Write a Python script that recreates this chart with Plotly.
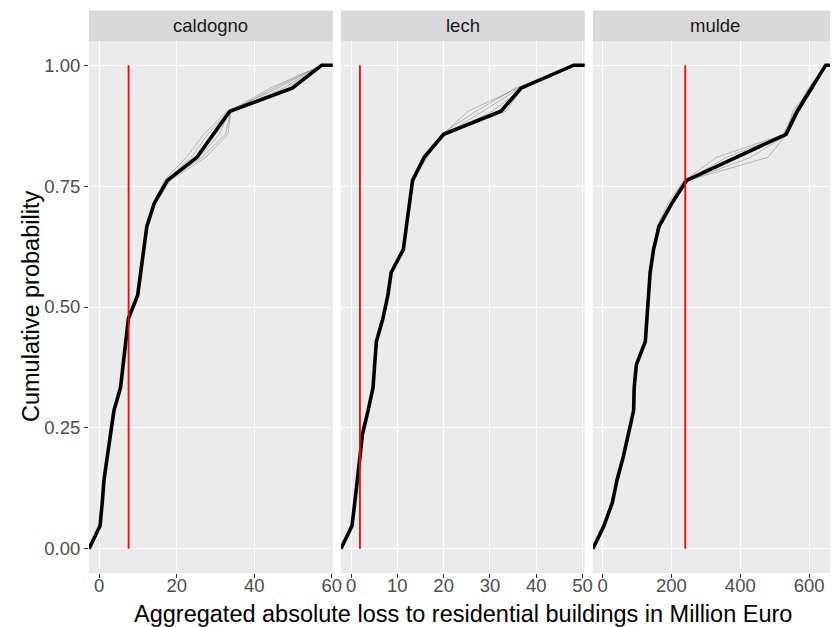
import plotly.graph_objects as go

# ---------------- data ----------------
panels = ["caldogno", "lech", "mulde"]

# sorted aggregated losses (Million Euro), main (bold) ECDF per case study
caldogno_loss = [0.25, 0.8, 1.27, 2.1, 2.97, 3.82, 5.52, 6.2, 6.9, 7.55, 9.93,
                 10.7, 11.5, 12.3, 14.2, 17.6, 25.2, 29.4, 33.7, 49.8, 57.4]
lech_loss = [0.21, 0.8, 1.35, 1.9, 2.49, 3.68, 4.75, 5.1, 5.47, 6.88, 7.95,
             8.67, 11.3, 11.95, 12.6, 13.3, 15.8, 20.0, 32.4, 36.7, 48.1]
mulde_loss = [3.8, 28, 42, 60, 76, 90, 91.6, 98, 124, 129, 135,
              138, 148, 164, 201, 244, 388, 533, 566, 608, 648]

# thin (sample) ECDFs
caldogno_samples = [
    [0.25, 0.8, 1.27, 2.1, 2.97, 3.82, 5.52, 6.2, 6.9, 7.55, 9.93, 10.7, 11.5, 12.3, 14.0, 17.2, 23.8, 28.0, 33.5, 46.0, 57.4],
    [0.25, 0.8, 1.27, 2.1, 2.97, 3.82, 5.52, 6.2, 6.9, 7.55, 9.93, 10.7, 11.5, 12.3, 14.4, 17.9, 26.5, 32.6, 33.9, 45.0, 57.4],
    [0.25, 0.8, 1.27, 2.1, 2.97, 3.82, 5.52, 6.2, 6.9, 7.55, 9.93, 10.7, 11.5, 12.3, 14.6, 18.3, 27.5, 33.2, 34.0, 47.5, 57.4],
    [0.25, 0.8, 1.27, 2.1, 2.97, 3.82, 5.52, 6.2, 6.9, 7.55, 9.93, 10.7, 11.5, 12.3, 13.9, 16.8, 22.5, 27.0, 33.0, 48.5, 57.4],
    [0.25, 0.8, 1.27, 2.1, 2.97, 3.82, 5.52, 6.2, 6.9, 7.55, 9.93, 10.7, 11.5, 12.3, 14.2, 17.5, 25.8, 31.0, 33.6, 44.0, 57.4],
]
lech_samples = [
    [0.21, 0.8, 1.35, 1.9, 2.49, 3.68, 4.75, 5.1, 5.47, 6.88, 7.95, 8.67, 11.3, 11.95, 12.6, 13.3, 15.5, 19.8, 25.3, 36.0, 48.1],
    [0.21, 0.8, 1.35, 1.9, 2.49, 3.68, 4.75, 5.1, 5.47, 6.88, 7.95, 8.67, 11.3, 11.95, 12.6, 13.3, 16.2, 20.3, 28.5, 36.4, 48.1],
    [0.21, 0.8, 1.35, 1.9, 2.49, 3.68, 4.75, 5.1, 5.47, 6.88, 7.95, 8.67, 11.3, 11.95, 12.6, 13.3, 15.9, 20.5, 30.5, 37.2, 48.1],
    [0.21, 0.8, 1.35, 1.9, 2.49, 3.68, 4.75, 5.1, 5.47, 6.88, 7.95, 8.67, 11.3, 11.95, 12.6, 13.3, 16.5, 19.5, 27.0, 35.5, 48.1],
    [0.21, 0.8, 1.35, 1.9, 2.49, 3.68, 4.75, 5.1, 5.47, 6.88, 7.95, 8.67, 11.3, 11.95, 12.6, 13.3, 15.6, 20.1, 33.5, 37.0, 48.1],
]
mulde_samples = [
    [3.8, 28, 42, 60, 76, 90, 91.6, 98, 124, 129, 135, 138, 148, 160, 196, 238, 331, 528, 560, 600, 648],
    [3.8, 28, 42, 60, 76, 90, 91.6, 98, 124, 129, 135, 138, 148, 168, 206, 248, 480, 535, 552, 605, 648],
    [3.8, 28, 42, 60, 76, 90, 91.6, 98, 124, 129, 135, 138, 148, 162, 199, 242, 360, 530, 570, 612, 648],
    [3.8, 28, 42, 60, 76, 90, 91.6, 98, 124, 129, 135, 138, 148, 166, 203, 250, 430, 538, 563, 598, 648],
    [3.8, 28, 42, 60, 76, 90, 91.6, 98, 124, 129, 135, 138, 148, 158, 190, 236, 400, 525, 558, 610, 648],
]

# observed losses (red vertical lines)
observed_loss = [7.6, 1.92, 240]

x_tickvals = [[0, 20, 40, 60], [0, 10, 20, 30, 40, 50], [0, 200, 400, 600]]
y_tickvals = [0, 0.25, 0.5, 0.75, 1.0]
y_ticktext = ["0.00", "0.25", "0.50", "0.75", "1.00"]

main_series = [caldogno_loss, lech_loss, mulde_loss]
sample_series = [caldogno_samples, lech_samples, mulde_samples]

# ---------------- layout geometry (pixels) ----------------
# the page body adds an 8px offset; figure coordinates = window coordinates - 8
OFF = 8
W, H = 839 - OFF, 627 - OFF
ML, MR, MT, MB = 88.7 - OFF, 0, 40.5 - OFF, H - (573 - OFF)
PW = W - ML - MR
PH = H - MT - MB
panel_px = [(88.7 - OFF, 335.6 - OFF), (343.8 - OFF, 590.7 - OFF), (598.9 - OFF, 845.8 - OFF)]
STRIP_TOP = 10 - OFF

FONT = "Liberation Sans, Arial, sans-serif"
TICK_SIZE = 18.5
TITLE_SIZE = 23.5

fig = go.Figure()


def ecdf_xy(vals, xmin, xmax):
    n = len(vals)
    xs = [xmin] + list(vals) + [xmax]
    ys = [0.0] + [(i + 1) / n for i in range(n)] + [1.0]
    return xs, ys


for k, name in enumerate(panels):
    vals = main_series[k]
    lo, hi = min(vals), max(vals)
    ext = 0.05 * (hi - lo)
    full_lo, full_hi = lo - ext, hi + ext
    a, b = panel_px[k]
    vis_b = min(b, W - MR)
    vis_hi = full_lo + (full_hi - full_lo) * (vis_b - a) / (b - a)

    xa = "x" if k == 0 else f"x{k + 1}"
    ya = "y" if k == 0 else f"y{k + 1}"

    for s in sample_series[k]:
        xs, ys = ecdf_xy(s, full_lo, full_hi)
        fig.add_trace(go.Scatter(x=xs, y=ys, mode="lines", xaxis=xa, yaxis=ya,
                                 line=dict(color="rgba(0,0,0,0.3)", width=0.8),
                                 showlegend=False, hoverinfo="skip"))
    xs, ys = ecdf_xy(vals, full_lo, full_hi)
    fig.add_trace(go.Scatter(x=xs, y=ys, mode="lines", xaxis=xa, yaxis=ya,
                             line=dict(color="black", width=3.6),
                             showlegend=False))
    fig.add_trace(go.Scatter(x=[observed_loss[k], observed_loss[k]], y=[0, 1],
                             mode="lines", xaxis=xa, yaxis=ya,
                             line=dict(color="#FF0000", width=1.8),
                             showlegend=False))

    d0 = (a - ML) / PW
    d1 = (vis_b - ML) / PW
    xkey = "xaxis" if k == 0 else f"xaxis{k + 1}"
    ykey = "yaxis" if k == 0 else f"yaxis{k + 1}"
    fig.layout[xkey] = dict(
        domain=[d0, d1], range=[full_lo, vis_hi], anchor=ya,
        tickvals=x_tickvals[k], ticktext=[str(v) for v in x_tickvals[k]],
        showgrid=True, gridcolor="white", gridwidth=1.1, zeroline=False,
        showline=False, ticks="outside", ticklen=4, tickcolor="#333333",
        ticklabelstandoff=-8,
        tickfont=dict(family=FONT, size=TICK_SIZE, color="#4D4D4D"),
    )
    fig.layout[ykey] = dict(
        domain=[0, 1], range=[-0.05, 1.05], anchor=xa,
        tickvals=y_tickvals, ticktext=y_ticktext,
        showticklabels=(k == 0),
        showgrid=True, gridcolor="white", gridwidth=1.1, zeroline=False,
        showline=False, ticks="outside" if k == 0 else "", ticklen=4,
        tickcolor="#333333",
        tickfont=dict(family=FONT, size=TICK_SIZE, color="#4D4D4D"),
    )
    # panel background
    fig.add_shape(type="rect", xref=f"{xa} domain", yref=f"{ya} domain",
                  x0=0, x1=1, y0=0, y1=1, fillcolor="#EBEBEB",
                  line=dict(width=0), layer="below")
    # strip
    strip_top = 1 + (MT - STRIP_TOP) / PH
    fig.add_shape(type="rect", xref=f"{xa} domain", yref="paper",
                  x0=0, x1=1, y0=1, y1=strip_top, fillcolor="#D9D9D9",
                  line=dict(width=0))
    cx = ((a + b) / 2 - a) / (vis_b - a)
    fig.add_annotation(text=name, xref=f"{xa} domain", yref="paper",
                       x=cx, y=(1 + strip_top) / 2, showarrow=False,
                       xanchor="center", yanchor="middle",
                       font=dict(family=FONT, size=TICK_SIZE, color="#1A1A1A"))

# axis titles
x_title_center = ((panel_px[0][0] + panel_px[2][1]) / 2 - ML) / PW
fig.add_annotation(text="Aggregated absolute loss to residential buildings in Million Euro",
                   xref="paper", yref="paper", x=x_title_center,
                   y=-((614 - OFF) - (H - MB)) / PH,
                   showarrow=False, xanchor="center", yanchor="middle",
                   font=dict(family=FONT, size=TITLE_SIZE, color="black"))
fig.add_annotation(text="Cumulative probability", xref="paper", yref="paper",
                   x=-(ML - (30 - OFF)) / PW, y=0.5, textangle=-90, showarrow=False,
                   xanchor="center", yanchor="middle",
                   font=dict(family=FONT, size=TITLE_SIZE, color="black"))

fig.update_layout(
    width=W, height=H,
    margin=dict(l=ML, r=MR, t=MT, b=MB, pad=0),
    paper_bgcolor="white", plot_bgcolor="rgba(0,0,0,0)",
    showlegend=False,
)

fig.write_html("out.html")
